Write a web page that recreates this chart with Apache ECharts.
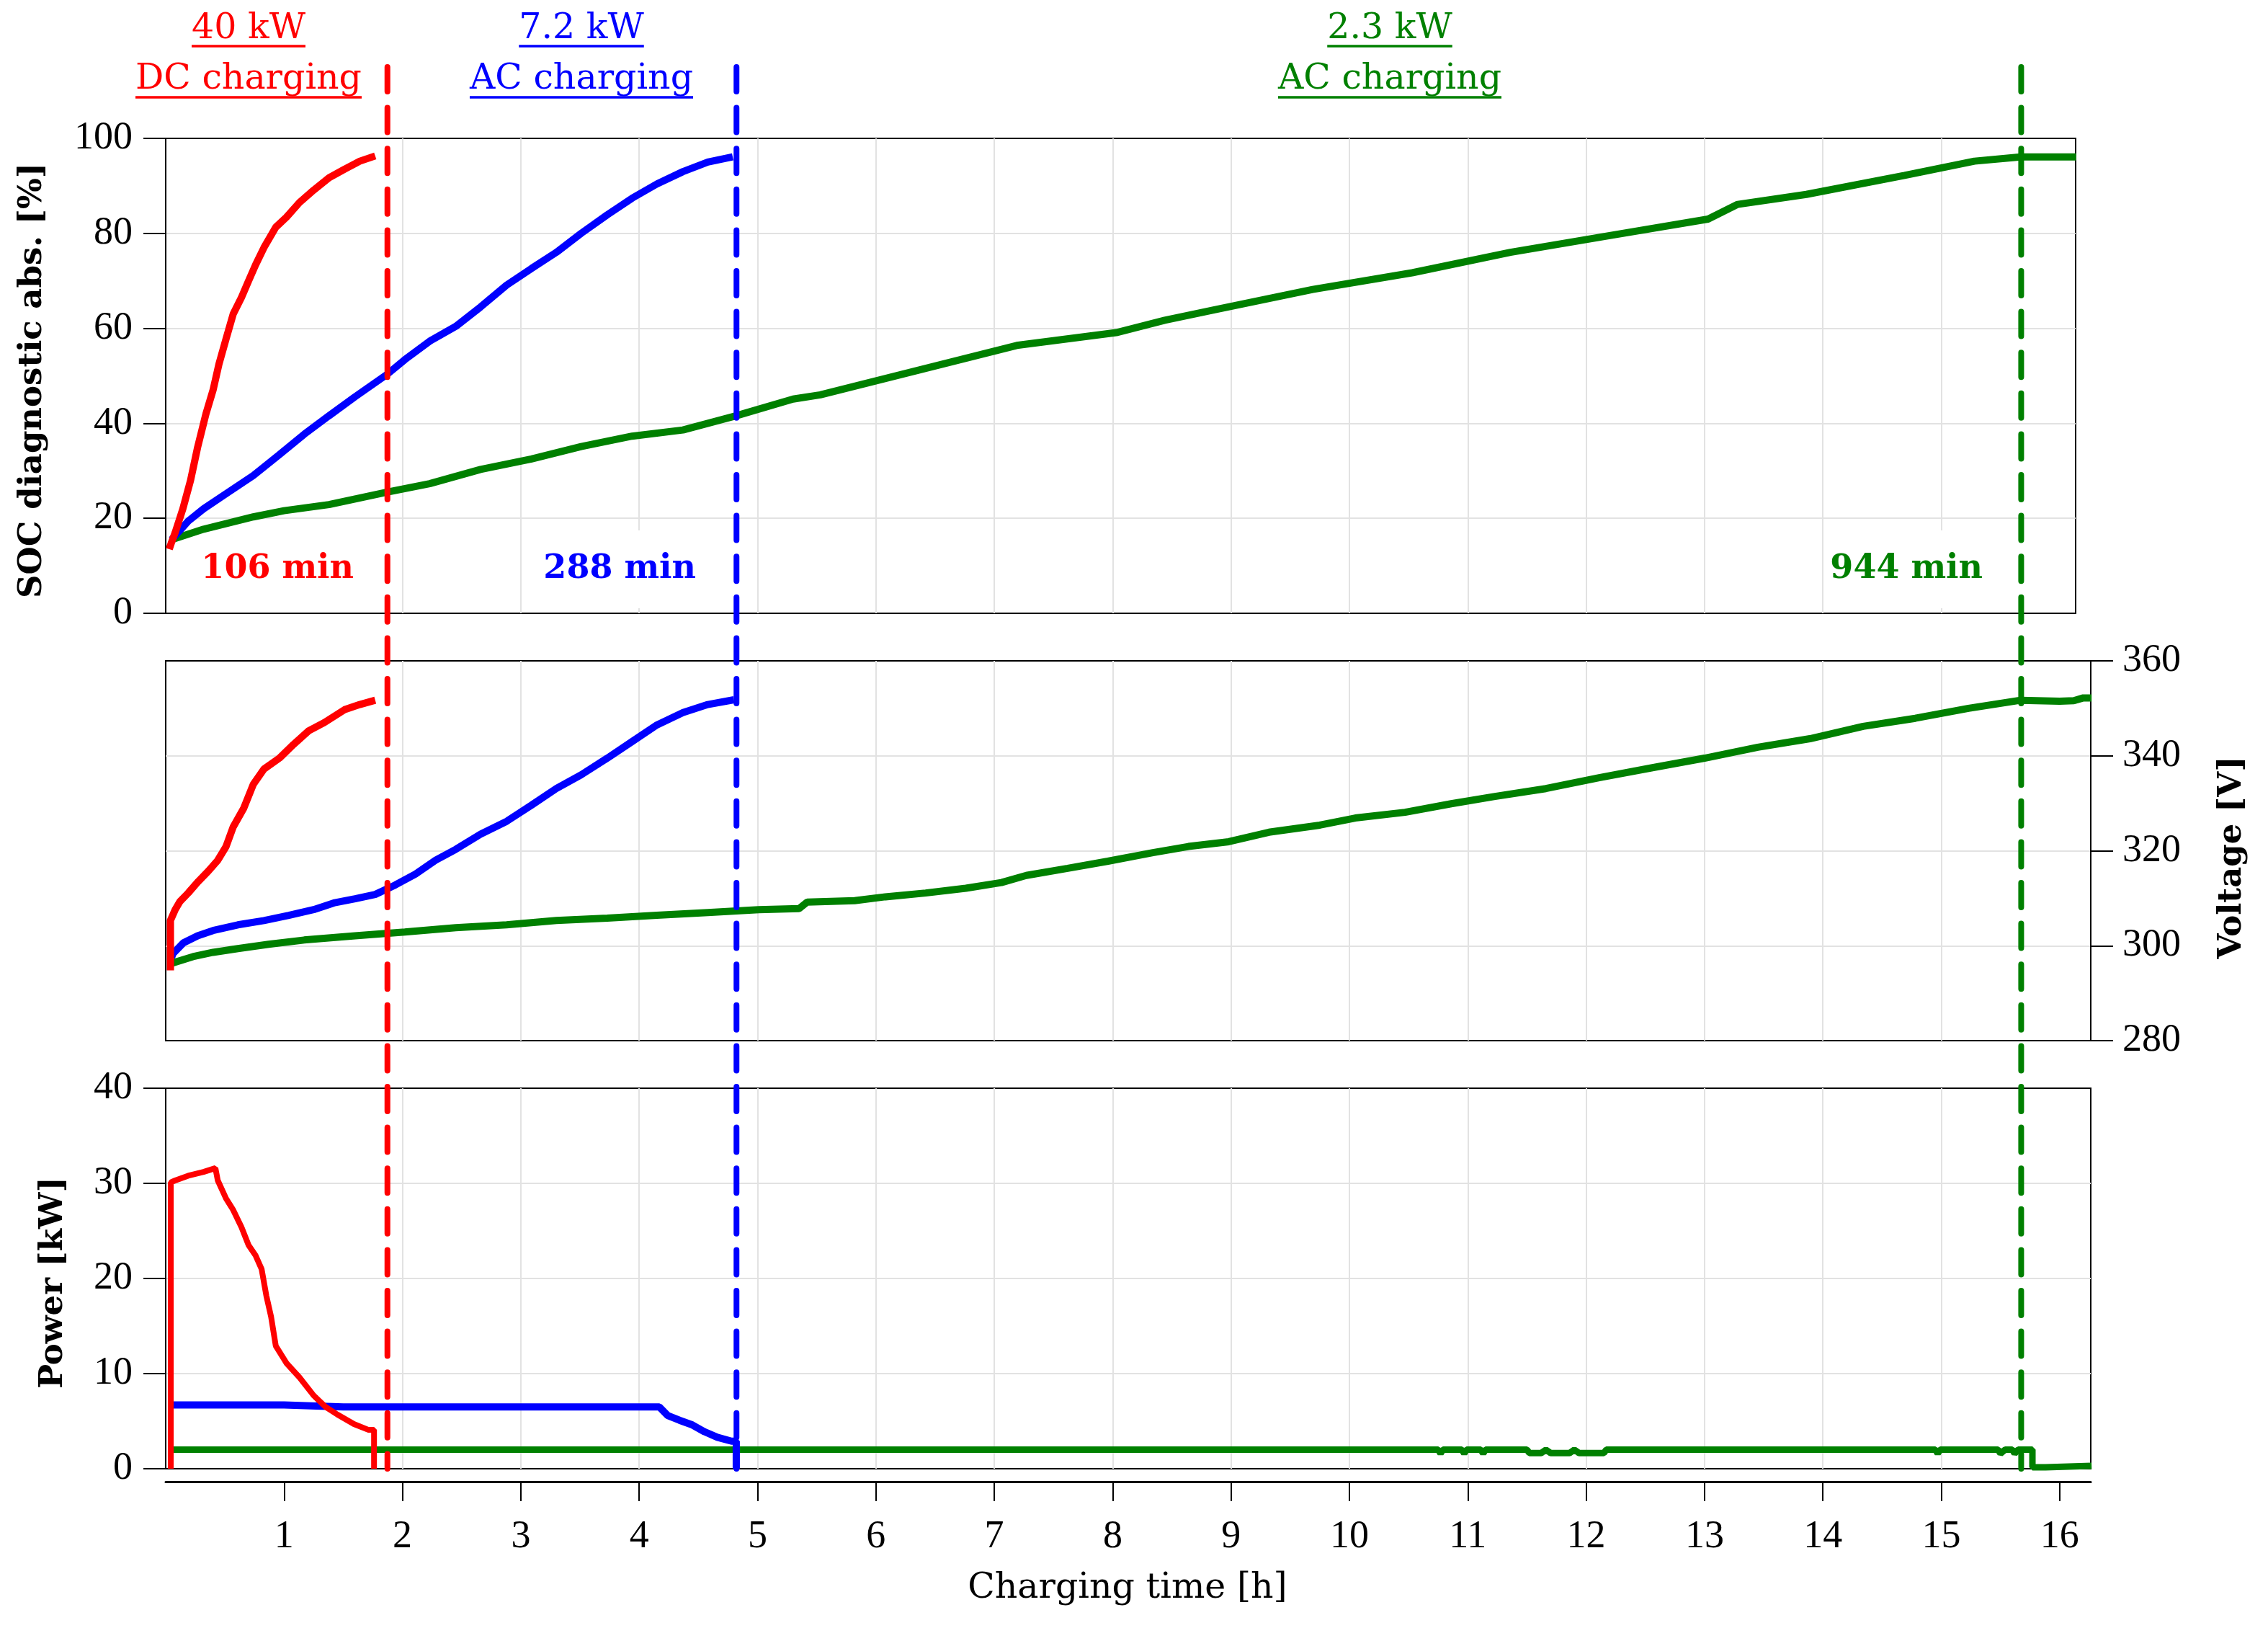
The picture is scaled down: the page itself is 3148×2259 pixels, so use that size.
<!DOCTYPE html>
<html>
<head>
<meta charset="utf-8">
<script src="https://cdn.jsdelivr.net/npm/echarts@6/dist/echarts.min.js"></script>
<style>
html,body{margin:0;padding:0;background:#fff;}
#c{width:3148px;height:2259px;}
</style>
</head>
<body>
<div id="c"></div>
<script>
// ---------------- data ----------------
const hourTicks = [1,2,3,4,5,6,7,8,9,10,11,12,13,14,15,16];

// SOC [%] vs charging time [h]
const socDC40 = [[0.03,13.5],[0.05,15],[0.08,17],[0.145,22],[0.21,28],[0.27,35],[0.34,42],[0.40,47],[0.45,52.5],[0.51,57.8],[0.57,63],[0.64,66.5],[0.70,70],[0.76,73.4],[0.83,77],[0.93,81.3],[1.02,83.4],[1.13,86.5],[1.25,89.1],[1.38,91.7],[1.51,93.5],[1.64,95.2],[1.77,96.3]];
const socAC72 = [[0.05,15.5],[0.19,19.4],[0.32,22],[0.53,25.5],[0.74,29],[0.96,33.4],[1.17,37.7],[1.38,41.6],[1.60,45.6],[1.87,50.3],[2.02,53.4],[2.23,57.3],[2.45,60.4],[2.66,64.5],[2.88,69.1],[3.09,72.6],[3.30,76],[3.51,80],[3.73,83.9],[3.94,87.4],[4.15,90.4],[4.37,93],[4.58,95],[4.79,96.1]];
const socAC23 = [[0.05,15.5],[0.32,17.7],[0.74,20.3],[1.00,21.6],[1.38,22.9],[1.87,25.5],[2.23,27.3],[2.66,30.3],[3.09,32.5],[3.51,35.1],[3.94,37.3],[4.37,38.6],[4.82,41.6],[5.30,45.1],[5.53,46],[6.36,51.2],[7.19,56.4],[8.03,59.1],[8.44,61.7],[8.86,63.9],[9.69,68.2],[10.53,71.7],[11.36,76],[12.19,79.5],[13.03,83],[13.28,86.1],[13.86,88.2],[14.69,92.2],[15.28,95.2],[15.67,96.1],[16.14,96.1]];

// Voltage [V]
const voltDC40 = [[0.04,294.8],[0.04,305.3],[0.08,307.6],[0.12,309.3],[0.19,311.1],[0.27,313.4],[0.36,315.7],[0.44,318],[0.51,320.9],[0.57,325],[0.66,329],[0.74,334],[0.83,337.2],[0.96,339.5],[1.08,342.4],[1.21,345.3],[1.34,347],[1.51,349.7],[1.64,350.8],[1.77,351.7]];
const voltAC72 = [[0.05,297.5],[0.06,298.3],[0.15,300.6],[0.27,302.1],[0.40,303.2],[0.61,304.4],[0.83,305.3],[1.04,306.4],[1.25,307.6],[1.42,309],[1.60,309.9],[1.77,310.8],[1.94,312.8],[2.11,315.1],[2.28,318],[2.45,320.3],[2.66,323.5],[2.88,326.2],[3.09,329.6],[3.30,333.1],[3.51,336],[3.73,339.5],[3.94,343],[4.15,346.5],[4.37,349.1],[4.58,350.8],[4.80,351.8]];
const voltAC23 = [[0.05,296.3],[0.23,297.7],[0.40,298.6],[0.61,299.4],[0.87,300.3],[1.17,301.2],[1.60,302.1],[2.02,302.9],[2.45,303.8],[2.88,304.4],[3.30,305.3],[3.73,305.8],[4.15,306.4],[4.58,307],[5.01,307.6],[5.35,307.8],[5.42,309.2],[5.82,309.5],[6.08,310.3],[6.42,311.1],[6.76,312.1],[7.06,313.3],[7.27,314.8],[7.62,316.3],[7.96,317.8],[8.34,319.6],[8.64,320.9],[8.98,321.9],[9.32,323.9],[9.75,325.4],[10.05,326.9],[10.47,328.1],[10.86,329.9],[11.22,331.4],[11.66,333.1],[12.11,335.4],[12.56,337.5],[13.00,339.5],[13.45,341.8],[13.89,343.6],[14.34,346.2],[14.78,347.9],[15.23,350],[15.67,351.7],[16.00,351.5],[16.12,351.6],[16.20,352.2],[16.27,352.2]];

// Power [kW]
const powDC40 = [[0.043,0],[0.043,30.1],[0.08,30.3],[0.19,30.8],[0.32,31.2],[0.42,31.6],[0.44,30.3],[0.51,28.4],[0.57,27.2],[0.64,25.4],[0.70,23.5],[0.76,22.4],[0.81,21],[0.85,18.2],[0.89,16],[0.93,12.9],[1.02,11.1],[1.13,9.6],[1.25,7.7],[1.35,6.5],[1.45,5.7],[1.59,4.7],[1.71,4.1],[1.76,4.1],[1.76,0]];
const powAC72 = [[0.046,6.7],[0.5,6.7],[1.0,6.7],[1.5,6.5],[2.0,6.5],[3.0,6.5],[4.17,6.5],[4.24,5.6],[4.34,5.1],[4.45,4.6],[4.55,3.9],[4.66,3.3],[4.78,2.9],[4.82,2.9],[4.82,0]];
const powAC23 = [[0.046,2.0],[10.75,2.0],[10.77,1.6],[10.79,2.0],[10.95,2.0],[10.97,1.6],[10.99,2.0],[11.11,2.0],[11.13,1.6],[11.15,2.0],[11.50,2.0],[11.52,1.65],[11.62,1.65],[11.66,2.0],[11.70,1.65],[11.86,1.65],[11.90,2.0],[11.94,1.65],[12.15,1.65],[12.17,2.0],[14.95,2.0],[14.97,1.6],[14.99,2.0],[15.48,2.0],[15.50,1.6],[15.54,2.0],[15.60,2.0],[15.62,1.6],[15.65,2.0],[15.77,2.0],[15.77,0.15],[15.88,0.15],[15.88,0.3],[16.27,0.3]];

// charging sessions
const sessionEnd = [1.873, 4.822, 15.675];         // dashed marker positions [h]
const sessionDuration = ['106 min', '288 min', '944 min'];
const sessionPower = ['40 kW', '7.2 kW', '2.3 kW'];
const sessionMode = ['DC charging', 'AC charging', 'AC charging'];

// ---------------- styling ----------------
const RED = '#ff0000', BLUE = '#0000ff', GREEN = '#008000';
const sessionColor = [RED, BLUE, GREEN];
const NUMF = '"Liberation Serif", serif';
const TXTF = '"DejaVu Serif", serif';
const GRIDC = '#e2e2e2';

const chart = echarts.init(document.getElementById('c'), null, {renderer: 'canvas'});

function xAxisCfg(i, max) {
  const bottom = (i === 2);
  return {
    type: 'value', gridIndex: i, min: 0, max: max, interval: 1,
    offset: bottom ? 18 : 0,
    axisLine: {show: bottom, onZero: false, lineStyle: {color: '#000', width: 3}},
    axisTick: {show: bottom, customValues: hourTicks, length: 27, lineStyle: {color: '#000', width: 2}},
    axisLabel: {show: bottom, customValues: hourTicks, margin: 50, fontFamily: NUMF, fontSize: 54, color: '#000'},
    splitLine: {show: true, showMinLine: false, showMaxLine: false, lineStyle: {color: GRIDC, width: 2}}
  };
}
function yAxisCfg(i, min, max, interval, pos, margin) {
  return {
    type: 'value', gridIndex: i, min: min, max: max, interval: interval, position: pos,
    axisLine: {show: true, onZero: false, lineStyle: {color: '#000', width: 2}},
    axisTick: {show: true, inside: false, length: 31, lineStyle: {color: '#000', width: 2}},
    axisLabel: {show: true, margin: margin, fontFamily: NUMF, fontSize: 54, color: '#000'},
    splitLine: {show: true, showMinLine: false, showMaxLine: false, lineStyle: {color: GRIDC, width: 2}}
  };
}
function lineSeries(data, xi, color, width) {
  return {
    type: 'line', xAxisIndex: xi, yAxisIndex: xi, data: data,
    showSymbol: false, symbol: 'none', animation: false,
    lineStyle: {color: color, width: width, join: 'bevel'},
    itemStyle: {color: color}
  };
}

const gridBase = {show: true, borderColor: '#000', borderWidth: 2, backgroundColor: 'rgba(0,0,0,0)', containLabel: false};
const option = {
  backgroundColor: '#fff',
  animation: false,
  grid: [
    Object.assign({left: 230, top: 192, width: 2651, height: 659}, gridBase),
    Object.assign({left: 230, top: 917, width: 2672, height: 527}, gridBase),
    Object.assign({left: 230, top: 1510, width: 2672, height: 528}, gridBase)
  ],
  xAxis: [xAxisCfg(0, 2651 / 164.3), xAxisCfg(1, 2672 / 164.3), xAxisCfg(2, 2672 / 164.3)],
  yAxis: [
    yAxisCfg(0, 0, 100, 20, 'left', 46),
    yAxisCfg(1, 280, 360, 20, 'right', 44),
    yAxisCfg(2, 0, 40, 10, 'left', 46)
  ],
  series: [
    lineSeries(socAC23, 0, GREEN, 10),
    lineSeries(socAC72, 0, BLUE, 10),
    lineSeries(socDC40, 0, RED, 10),
    lineSeries(voltAC23, 1, GREEN, 10),
    lineSeries(voltAC72, 1, BLUE, 10),
    lineSeries(voltDC40, 1, RED, 10),
    lineSeries(powAC23, 2, GREEN, 9),
    lineSeries(powAC72, 2, BLUE, 10),
    lineSeries(powDC40, 2, RED, 8)
  ]
};
chart.setOption(option);

// ---------------- overlay: session markers and texts ----------------
const ctx = document.createElement('canvas').getContext('2d');
function textWidth(t, font) { ctx.font = font; return ctx.measureText(t).width; }

const px = v => chart.convertToPixel({xAxisIndex: 2}, v);
const yBottom = chart.convertToPixel({yAxisIndex: 2}, 0);
const headFont = '49px ' + TXTF;
const headX = [345, 807, 1929];
const durRight = [495, 970, 2756];
const g = [];

sessionEnd.forEach((t, i) => {
  const x = px(t);
  g.push({type: 'line', z: 200, silent: true,
    shape: {x1: x, y1: 93, x2: x, y2: yBottom},
    style: {stroke: sessionColor[i], lineWidth: 8, lineDash: [34, 22.6], lineCap: 'round'}});
  // header texts
  [[sessionPower[i], 40, 64], [sessionMode[i], 110, 135]].forEach(([txt, ym, yu]) => {
    g.push({type: 'text', z: 200, silent: true, x: headX[i], y: ym,
      style: {text: txt, font: headFont, fill: sessionColor[i], align: 'center', textAlign: 'center', verticalAlign: 'middle', textVerticalAlign: 'middle'}});
    const w = textWidth(txt, headFont);
    g.push({type: 'line', z: 200, silent: true,
      shape: {x1: headX[i] - w / 2, y1: yu, x2: headX[i] + w / 2, y2: yu},
      style: {stroke: sessionColor[i], lineWidth: 3.5}});
  });
  // duration annotation
  g.push({type: 'text', z: 150, silent: true, x: durRight[i], y: 790,
    style: {text: sessionDuration[i], font: 'bold 46px ' + TXTF, fill: sessionColor[i],
      align: 'right', textAlign: 'right', verticalAlign: 'middle', textVerticalAlign: 'middle',
      backgroundColor: '#fff', padding: i === 0 ? [4, 4, 30, 4] : [32, 4, 30, 4]}});
});

// axis titles
const titles = [
  ['SOC diagnostic abs. [%]', 45, 528, Math.PI / 2, 'bold 45px ' + TXTF],
  ['Voltage [V]', 3098, 1190, Math.PI / 2, 'bold 45px ' + TXTF],
  ['Power [kW]', 74, 1780, Math.PI / 2, 'bold 45px ' + TXTF],
  ['Charging time [h]', 1565, 2204, 0, '49px ' + TXTF]
];
titles.forEach(([txt, x, y, rot, font]) => {
  g.push({type: 'text', z: 200, silent: true, x: x, y: y, rotation: rot,
    style: {text: txt, font: font, fill: '#000', align: 'center', textAlign: 'center', verticalAlign: 'middle', textVerticalAlign: 'middle'}});
});

chart.setOption({graphic: {elements: g}});
</script>
</body>
</html>
